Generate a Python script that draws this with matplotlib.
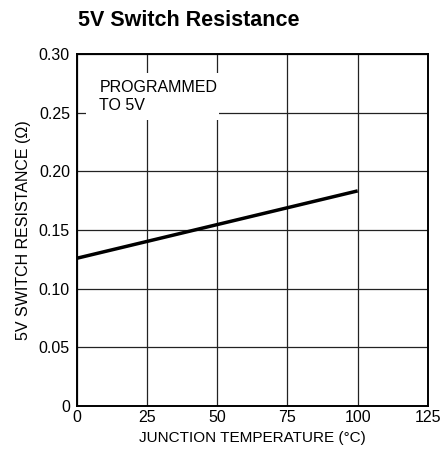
import matplotlib
matplotlib.use("Agg")
import matplotlib.pyplot as plt

plt.rcParams['font.family'] = ['Liberation Sans Narrow', 'Liberation Sans', 'DejaVu Sans']

# data
temp = [0, 100]
resistance = [0.1259, 0.1833]
xticks = [0, 25, 50, 75, 100, 125]
yticks = [0, 0.05, 0.10, 0.15, 0.20, 0.25, 0.30]
ylabels = ["0", "0.05", "0.10", "0.15", "0.20", "0.25", "0.30"]

fig = plt.figure(figsize=(4.42, 4.59), dpi=100)
ax = fig.add_axes([0.174, 0.1155, 0.794, 0.767])

ax.plot(temp, resistance, color="black", linewidth=2.5, solid_capstyle="butt", zorder=3)

ax.set_xlim(0, 125)
ax.set_ylim(0, 0.30)
ax.set_xticks(xticks)
ax.set_yticks(yticks)
ax.set_yticklabels(ylabels)
ax.tick_params(length=0, labelsize=11.5, pad=5, colors="black")
ax.tick_params(axis="x", pad=3)
ax.grid(True, color="#222222", linewidth=0.9)
for s in ax.spines.values():
    s.set_linewidth(1.4)

ax.set_xlabel("JUNCTION TEMPERATURE (\u00b0C)", fontsize=11, labelpad=4)
ax.set_ylabel("5V SWITCH RESISTANCE (\u03a9)", fontsize=11.5, labelpad=6)

# label with white box covering grid
ax.add_patch(plt.Rectangle((3.2, 0.244), 47.5, 0.040, facecolor="white", edgecolor="none", zorder=2))
ax.text(8, 0.278, "PROGRAMMED\nTO 5V", fontsize=11.5, va="top", ha="left", linespacing=1.25, zorder=4)

fig.text(0.176, 0.955, "5V Switch Resistance", fontsize=15.5, fontweight="bold", ha="left", va="center")

fig.savefig("out.png", dpi=100)
